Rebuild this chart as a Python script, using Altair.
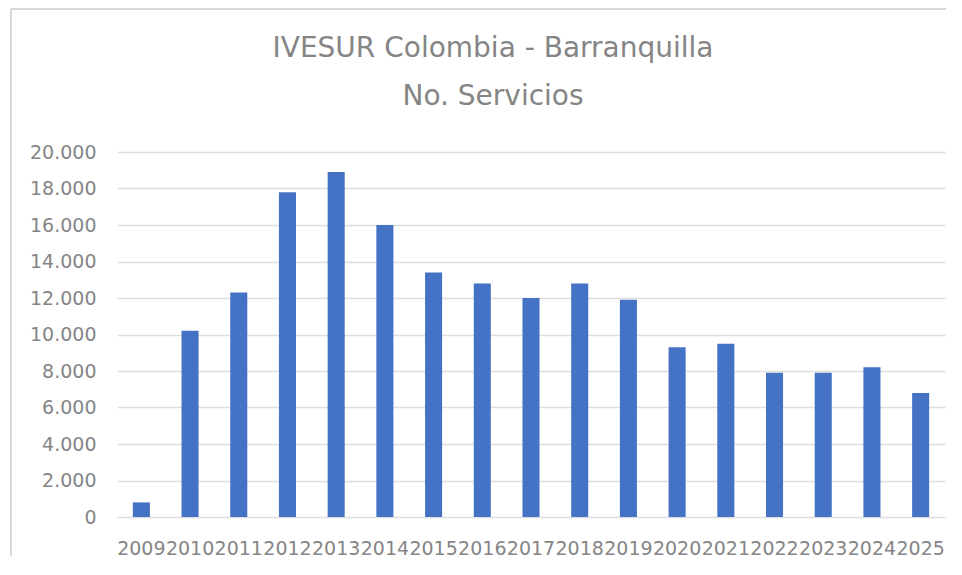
import altair as alt
import pandas as pd

years = ["2009", "2010", "2011", "2012", "2013", "2014", "2015", "2016", "2017",
         "2018", "2019", "2020", "2021", "2022", "2023", "2024", "2025"]
servicios = [800, 10200, 12300, 17800, 18900, 16000, 13400, 12800, 12000,
             12800, 11900, 9300, 9500, 7900, 7900, 8200, 6800]
title_lines = ["IVESUR Colombia - Barranquilla", "No. Servicios"]

df = pd.DataFrame({"year": years, "servicios": servicios})
one = pd.DataFrame({"k": [0]})

GREY = "#858585"
FONT = "DejaVu Sans"

bars = alt.Chart(df).mark_bar(color="#4472C4").encode(
    x=alt.X("year:N", sort=years, title=None,
            scale=alt.Scale(paddingInner=0.65, paddingOuter=0.325),
            axis=alt.Axis(labelAngle=0, labelOverlap=False, ticks=False,
                          domain=False, labelPadding=22, labelFontSize=19,
                          labelFont=FONT, labelColor=GREY)),
    y=alt.Y("servicios:Q", title=None,
            scale=alt.Scale(domain=[0, 20000], nice=False),
            axis=alt.Axis(values=list(range(0, 20001, 2000)), ticks=False,
                          domain=False, labelPadding=21, labelFontSize=19,
                          labelFont=FONT, labelColor=GREY,
                          gridColor="#dedede", gridWidth=1.6,
                          labelExpr="replace(format(datum.value, ','), ',', '.')")),
)

title1 = alt.Chart(one).mark_text(
    font=FONT, fontSize=28, color=GREY, align="center", baseline="alphabetic"
).encode(x=alt.value(376), y=alt.value(-95), text=alt.value(title_lines[0]))
title2 = alt.Chart(one).mark_text(
    font=FONT, fontSize=28, color=GREY, align="center", baseline="alphabetic"
).encode(x=alt.value(376), y=alt.value(-47), text=alt.value(title_lines[1]))

border_top = alt.Chart(one).mark_rule(color="#d9d9d9", strokeWidth=2).encode(
    x=alt.value(-106), x2=alt.value(830), y=alt.value(-143)
)
border_left = alt.Chart(one).mark_rule(color="#d9d9d9", strokeWidth=2).encode(
    x=alt.value(-106), y=alt.value(-143), y2=alt.value(404)
)

chart = alt.layer(bars, title1, title2, border_top, border_left).properties(
    width=828,
    height=365,
    autosize=alt.AutoSizeParams(type="none"),
    padding={"left": 109, "top": 144, "right": 1, "bottom": 40},
    background="white",
).configure_view(stroke=None)

chart.save("out.html", embed_options={"renderer": "svg", "actions": False})
